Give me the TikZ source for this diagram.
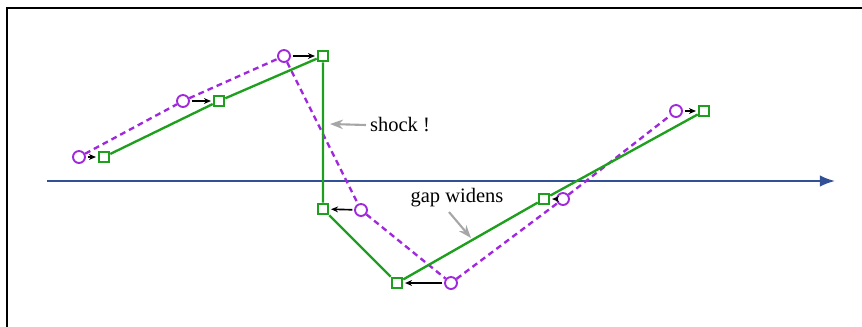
\documentclass[tikz,border=0pt]{standalone}
\usepackage{fontspec}
\setmainfont{Liberation Serif}
\usetikzlibrary{arrows.meta,positioning}

\definecolor{gasgreen}{RGB}{30,160,30}
\definecolor{oldpurple}{RGB}{160,40,220}
\definecolor{axisblue}{RGB}{50,80,150}

\begin{document}
\begin{tikzpicture}[x=0.03cm, y=-0.03cm,
    oldpt/.style={circle, draw=oldpurple, line width=1.6pt, fill=white, inner sep=0pt, minimum size=0.36cm},
    newpt/.style={rectangle, draw=gasgreen, line width=1.6pt, fill=white, inner sep=0pt, minimum size=0.32cm},
    newline/.style={gasgreen, line width=2pt},
    oldline/.style={oldpurple, line width=2pt, dash pattern=on 5pt off 3.5pt},
    moveto/.style={-{Stealth[length=6pt,width=5pt]}, line width=1.4pt, shorten >=1.5pt, shorten <=1.5pt},
    note/.style={-{Stealth[length=11pt,width=8pt]}, gray!70, line width=1.8pt},
    notetext/.style={font=\fontsize{17.5}{20}\selectfont}
]
\useasboundingbox (0,0) rectangle (862,326);

% Frame
\draw[line width=2pt] (7,330) -- (7,8) -- (866,8);

% Axis
\draw[axisblue, line width=1.7pt, -{Latex[length=13pt,width=10pt]}] (47,181) -- (835,181);

% Old positions
\node[oldpt] (c1) at (79,157) {};
\node[oldpt] (c2) at (183,101) {};
\node[oldpt] (c3) at (284,56) {};
\node[oldpt] (c4) at (361,210) {};
\node[oldpt] (c5) at (451,283) {};
\node[oldpt] (c6) at (563,199) {};
\node[oldpt] (c7) at (676,111) {};

% New positions
\node[newpt] (s1) at (104,157) {};
\node[newpt] (s2) at (219,101) {};
\node[newpt] (s3) at (323,56) {};
\node[newpt] (s4) at (323,209) {};
\node[newpt] (s5) at (397,283) {};
\node[newpt] (s6) at (544,199) {};
\node[newpt] (s7) at (704,111) {};

% Lines
\draw[oldline] (c1) -- (c2) -- (c3) -- (c4) -- (c5) -- (c6) -- (c7);
\draw[newline] (s1) -- (s2) -- (s3) -- (s4) -- (s5) -- (s6) -- (s7);

% Shifts
\foreach \i in {1,...,7}
    \draw[moveto] (c\i) -- (s\i);

% Labels
\node[notetext, anchor=west] (shock) at (366,125) {shock !};
\coordinate (shockpt) at (330,124);
\draw[note] (shock.west) -- (shockpt);

\node[notetext] (gap) at (457,198) {gap widens};
\coordinate (gapst) at (449,212);
\coordinate (gappt) at (471,238);
\draw[note] (gapst) -- (gappt);

\end{tikzpicture}
\end{document}
